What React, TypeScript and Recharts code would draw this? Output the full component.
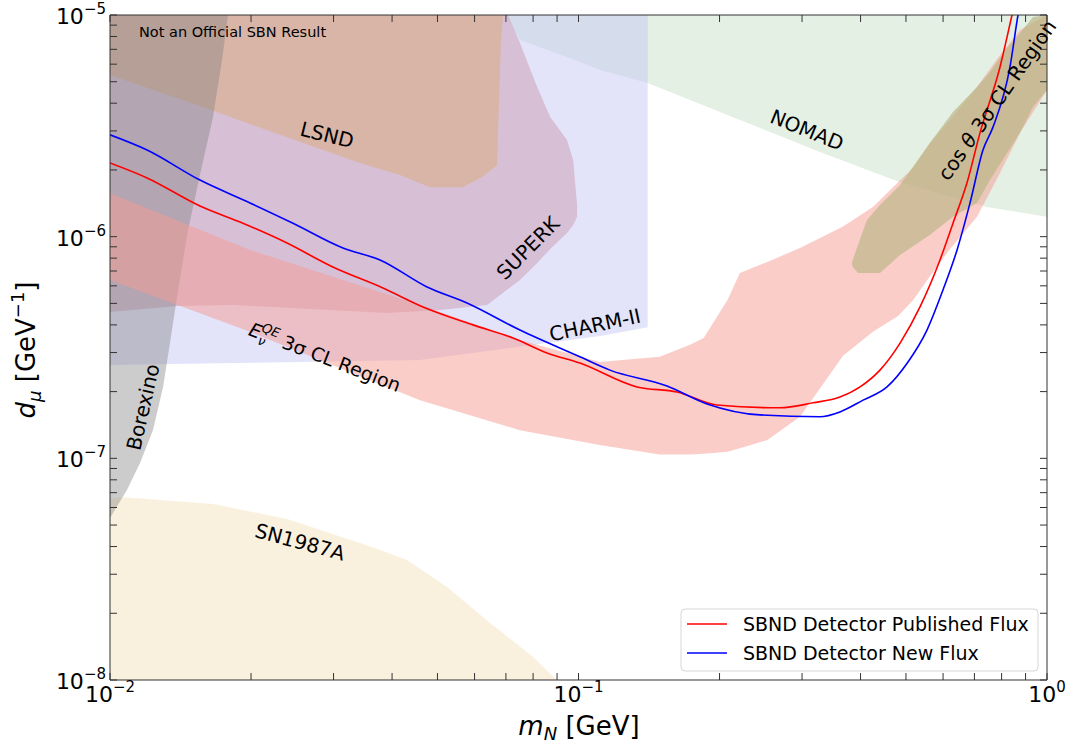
import React from 'react'
import { ComposedChart, Area, Line, XAxis, YAxis } from 'recharts'

// ---- data (m_N in GeV, d_mu in GeV^-1) ----
// bands: [m_N, lower d_mu, upper d_mu]
const SN1987A: [number, number, number][] = [
  [0.01, 1e-8, 6.62e-8], [0.01087, 1e-8, 6.66e-8], [0.01659, 1e-8, 6.22e-8],
  [0.02387, 1e-8, 5.33e-8], [0.03417, 1e-8, 4.15e-8], [0.0377, 1e-8, 3.86e-8],
  [0.04305, 1e-8, 3.48e-8], [0.0524, 1e-8, 2.63e-8], [0.06474, 1e-8, 1.81e-8],
  [0.08, 1e-8, 1.27e-8], [0.0898, 1e-8, 1e-8],
]
const NOMAD: [number, number, number][] = [
  [0.06967, 1e-5, 1e-5], [0.075, 7.71e-6, 1e-5], [0.0945, 6.46e-6, 1e-5],
  [0.1112, 5.65e-6, 1e-5], [0.1405, 4.93e-6, 1e-5], [0.2212, 3.36e-6, 1e-5],
  [0.3277, 2.41e-6, 1e-5], [0.4857, 1.76e-6, 1e-5], [0.7445, 1.36e-6, 1e-5],
  [1.0, 1.23e-6, 1e-5],
]
const CHARM: [number, number, number][] = [
  [0.01, 2.64e-7, 1e-5], [0.0183, 2.69e-7, 1e-5], [0.0459, 2.78e-7, 1e-5],
  [0.0857, 3.31e-7, 1e-5], [0.1112, 3.56e-7, 1e-5], [0.1405, 3.9e-7, 1e-5],
]
const SUPERK: [number, number, number][] = [
  [0.01, 4.57e-7, 1e-5], [0.0139, 4.87e-7, 1e-5], [0.0183, 4.92e-7, 1e-5],
  [0.039, 4.52e-7, 1e-5], [0.0506, 4.67e-7, 1e-5], [0.0638, 4.92e-7, 1e-5],
  [0.0707, 5.8e-7, 1e-5], [0.075, 6.37e-7, 7.47e-6], [0.0816, 7.6e-7, 4.73e-6],
  [0.087, 8.8e-7, 3.47e-6], [0.0945, 1.04e-6, 2.73e-6], [0.0974, 1.13e-6, 2.22e-6],
  [0.0993, 1.23e-6, 1.39e-6],
]
const LSND: [number, number, number][] = [
  [0.01, 5.36e-6, 1e-5], [0.01556, 3.89e-6, 1e-5], [0.02306, 2.88e-6, 1e-5],
  [0.03417, 2.15e-6, 1e-5], [0.04159, 1.9e-6, 1e-5], [0.04819, 1.67e-6, 1e-5],
  [0.05667, 1.67e-6, 1e-5], [0.06223, 1.86e-6, 1e-5], [0.06699, 2.1e-6, 1e-5],
  [0.06766, 4.14e-6, 1e-5], [0.06833, 7.71e-6, 1e-5], [0.069, 1e-5, 1e-5],
]
const BOREXINO: [number, number, number][] = [
  [0.01, 5.38e-8, 1e-5], [0.01015, 5.67e-8, 1e-5], [0.01087, 7.2e-8, 1e-5],
  [0.01159, 9.53e-8, 1e-5], [0.01235, 1.34e-7, 1e-5], [0.01298, 2.1e-7, 1e-5],
  [0.01356, 3.79e-7, 1e-5], [0.0139, 5.34e-7, 1e-5], [0.01467, 1.07e-6, 1e-5],
  [0.01556, 1.9e-6, 1e-5], [0.01659, 3.47e-6, 1e-5], [0.01734, 6.27e-6, 1e-5],
  [0.01786, 1e-5, 1e-5],
]
const ENU_QE: [number, number, number][] = [
  [0.01, 6.37e-7, 1.57e-6], [0.0199, 3.72e-7, 8.71e-7], [0.0459, 1.83e-7, 4.92e-7],
  [0.075, 1.34e-7, 3.42e-7], [0.111, 1.15e-7, 2.72e-7], [0.149, 1.04e-7, 2.87e-7],
  [0.173, 1.04e-7, 3.25e-7], [0.185, 1.05e-7, 3.49e-7], [0.208, 1.07e-7, 5.18e-7],
  [0.221, 1.11e-7, 6.86e-7], [0.253, 1.21e-7, 7.69e-7], [0.297, 1.54e-7, 8.89e-7],
  [0.367, 2.9e-7, 1.11e-6], [0.425, 3.72e-7, 1.36e-6], [0.481, 4.39e-7, 1.76e-6],
  [0.518, 5.18e-7, 2.04e-6], [0.563, 6.65e-7, 2.65e-6], [0.621, 8.8e-7, 3.36e-6],
  [0.709, 1.23e-6, 4.73e-6], [0.794, 1.94e-6, 6.6e-6], [0.876, 2.94e-6, 8.56e-6],
  [1.0, 4.59e-6, 1e-5],
]
const COS_THETA: [number, number, number][] = [
  [0.3836, 7.37e-7, 7.69e-7], [0.395, 6.86e-7, 9.17e-7], [0.4128, 6.86e-7, 1.19e-6],
  [0.44, 6.86e-7, 1.39e-6], [0.4857, 8.26e-7, 1.71e-6], [0.5628, 1.02e-6, 2.65e-6],
  [0.63, 1.23e-6, 3.65e-6], [0.7089, 1.42e-6, 4.73e-6], [0.7555, 1.8e-6, 5.53e-6],
  [0.8214, 2.38e-6, 7.1e-6], [0.8758, 2.94e-6, 8.3e-6], [0.9334, 3.85e-6, 9.79e-6],
  [1.0, 4.59e-6, 1e-5],
]

// sensitivity curves: [m_N, d_mu]
const PUBLISHED_FLUX: [number, number][] = [
  [0.01, 2.15e-6], [0.012, 1.84e-6], [0.01556, 1.375e-6], [0.01922, 1.15e-6],
  [0.02387, 9.36e-7], [0.0299, 7.3e-7], [0.03825, 5.87e-7], [0.04658, 4.82e-7],
  [0.05953, 4.0e-7], [0.07249, 3.49e-7], [0.08567, 2.99e-7], [0.1007, 2.69e-7],
  [0.1333, 2.1e-7], [0.1623, 1.99e-7], [0.1975, 1.74e-7], [0.2692, 1.69e-7],
  [0.3166, 1.78e-7], [0.3615, 1.89e-7], [0.399, 2.1e-7], [0.44, 2.5e-7],
  [0.4857, 3.31e-7], [0.5357, 4.82e-7], [0.591, 7.85e-7], [0.63, 1.15e-6],
  [0.6749, 1.75e-6], [0.7194, 2.94e-6], [0.7938, 5.83e-6], [0.842, 1e-5],
  [0.8758, 1.44e-5],
]
const NEW_FLUX: [number, number][] = [
  [0.01, 2.88e-6], [0.012, 2.46e-6], [0.01556, 1.8e-6], [0.0199, 1.42e-6],
  [0.02458, 1.15e-6], [0.03143, 8.89e-7], [0.0377, 7.85e-7], [0.0475, 5.93e-7],
  [0.05781, 5.02e-7], [0.075, 3.79e-7], [0.1007, 2.87e-7], [0.1167, 2.5e-7],
  [0.1545, 2.12e-7], [0.1881, 1.76e-7], [0.244, 1.57e-7], [0.3277, 1.54e-7],
  [0.3615, 1.62e-7], [0.405, 1.83e-7], [0.4555, 2.1e-7], [0.505, 2.72e-7],
  [0.5544, 3.79e-7], [0.5998, 5.75e-7], [0.6427, 8.71e-7], [0.685, 1.42e-6],
  [0.73, 2.46e-6], [0.7668, 3.12e-6], [0.8337, 5.83e-6], [0.8672, 1e-5],
  [0.8975, 1.44e-5],
]

const X_TICKS = [0.01, 0.02, 0.03, 0.04, 0.05, 0.06, 0.07, 0.08, 0.09, 0.1, 0.2, 0.3, 0.4, 0.5, 0.6, 0.7, 0.8, 0.9, 1]
const Y_TICKS = [
  1e-8, 2e-8, 3e-8, 4e-8, 5e-8, 6e-8, 7e-8, 8e-8, 9e-8,
  1e-7, 2e-7, 3e-7, 4e-7, 5e-7, 6e-7, 7e-7, 8e-7, 9e-7,
  1e-6, 2e-6, 3e-6, 4e-6, 5e-6, 6e-6, 7e-6, 8e-6, 9e-6, 1e-5,
]

const FONT = '"DejaVu Sans", Verdana, sans-serif'
const AXIS = '#333'
const RED = '#ff0000'
const BLUE = '#0000ff'

const bands = [
  { key: 'sn', rows: SN1987A, fill: '#f5e1bd', op: 0.5 },
  { key: 'nomad', rows: NOMAD, fill: '#c8e1c8', op: 0.5 },
  { key: 'charm', rows: CHARM, fill: '#c8c8f5', op: 0.5 },
  { key: 'superk', rows: SUPERK, fill: '#cc9cb2', op: 0.5 },
  { key: 'lsnd', rows: LSND, fill: '#dcac78', op: 0.5 },
  { key: 'borexino', rows: BOREXINO, fill: '#808080', op: 0.4 },
  { key: 'enu', rows: ENU_QE, fill: '#f59b91', op: 0.5 },
  { key: 'cos', rows: COS_THETA, fill: '#bcb789', op: 0.7 },
]

const isMajor = (v: number) => {
  const l = Math.log10(v)
  return Math.abs(l - Math.round(l)) < 1e-6
}
const expText = (v: number) => {
  const e = Math.round(Math.log10(v))
  return e < 0 ? '\u2212' + -e : String(e)
}

function BottomTick({ x, y, payload }: any) {
  const v = payload.value
  return (
    <g>
      <line x1={x} x2={x} y1={y} y2={y - 7} stroke={AXIS} />
      {isMajor(v) && (
        <text x={x} y={y + 22} textAnchor="middle" fontSize={22} fontFamily={FONT} fill="#000">
          10<tspan dy={-10} fontSize={15}>{expText(v)}</tspan>
        </text>
      )}
    </g>
  )
}
function TopTick({ x, y }: any) {
  return <line x1={x} x2={x} y1={y} y2={y + 7} stroke={AXIS} />
}
function LeftTick({ x, y, payload }: any) {
  const v = payload.value
  return (
    <g>
      <line x1={x} x2={x + 7} y1={y} y2={y} stroke={AXIS} />
      {isMajor(v) && (
        <text x={x - 4} y={y + 9} textAnchor="end" fontSize={22} fontFamily={FONT} fill="#000">
          10<tspan dy={-10} fontSize={15}>{expText(v)}</tspan>
        </text>
      )}
    </g>
  )
}
function RightTick({ x, y }: any) {
  return <line x1={x} x2={x - 7} y1={y} y2={y} stroke={AXIS} />
}

const LABELS = [
  { text: 'LSND', x: 327, y: 135, a: 14 },
  { text: 'SUPERK', x: 528, y: 248, a: -45 },
  { text: 'CHARM-II', x: 595, y: 325, a: -12 },
  { text: 'NOMAD', x: 807, y: 130, a: 22 },
  { text: 'Borexino', x: 143, y: 407, a: -77 },
  { text: 'SN1987A', x: 300, y: 542, a: 15 },
]

export default function App() {
  return (
    <div style={{ position: 'absolute', left: 0, top: 0, width: 1075, height: 745, background: '#fff' }}>
      <ComposedChart width={1075} height={745} margin={{ top: 14, right: 27, bottom: 0, left: 0 }}>
        <XAxis
          xAxisId="bottom" orientation="bottom" dataKey="x" type="number" scale="log"
          domain={[0.01, 1]} allowDataOverflow ticks={X_TICKS} interval={0}
          tickSize={0} tickMargin={0} tickLine={false} height={65}
          axisLine={{ stroke: AXIS }} tick={<BottomTick />}
        />
        <XAxis
          xAxisId="top" orientation="top" dataKey="x" type="number" scale="log"
          domain={[0.01, 1]} allowDataOverflow ticks={X_TICKS} interval={0}
          tickSize={0} tickMargin={0} tickLine={false} height={1}
          axisLine={{ stroke: AXIS }} tick={<TopTick />}
        />
        <YAxis
          yAxisId="left" orientation="left" type="number" scale="log"
          domain={[1e-8, 1e-5]} allowDataOverflow ticks={Y_TICKS} interval={0}
          tickSize={0} tickMargin={0} tickLine={false} width={110}
          axisLine={{ stroke: AXIS }} tick={<LeftTick />}
        />
        <YAxis
          yAxisId="right" orientation="right" type="number" scale="log"
          domain={[1e-8, 1e-5]} allowDataOverflow ticks={Y_TICKS} interval={0}
          tickSize={0} tickMargin={0} tickLine={false} width={1}
          axisLine={{ stroke: AXIS }} tick={<RightTick />}
        />

        {bands.map(b => (
          <Area
            key={b.key}
            xAxisId="bottom" yAxisId="left"
            data={b.rows.map(([x, lo, hi]) => ({ x, band: [lo, hi] }))}
            dataKey="band" type="linear" stroke="none"
            fill={b.fill} fillOpacity={b.op}
            dot={false} activeDot={false} isAnimationActive={false}
          />
        ))}

        <Line
          xAxisId="bottom" yAxisId="left"
          data={PUBLISHED_FLUX.map(([x, y]) => ({ x, y }))}
          dataKey="y" type="monotone" stroke={RED} strokeWidth={1.6}
          dot={false} activeDot={false} isAnimationActive={false}
        />
        <Line
          xAxisId="bottom" yAxisId="left"
          data={NEW_FLUX.map(([x, y]) => ({ x, y }))}
          dataKey="y" type="monotone" stroke={BLUE} strokeWidth={1.6}
          dot={false} activeDot={false} isAnimationActive={false}
        />
      </ComposedChart>

      {/* annotations, legend and axis titles */}
      <svg width={1075} height={745} style={{ position: 'absolute', left: 0, top: 0, pointerEvents: 'none' }}
        fontFamily={FONT}>
        <text x={139} y={37} fontSize={14.5} fill="#000">Not an Official SBN Result</text>

        {LABELS.map(l => (
          <text key={l.text} x={l.x} y={l.y} fontSize={20} textAnchor="middle" dominantBaseline="central"
            transform={`rotate(${l.a}, ${l.x}, ${l.y})`} fill="#000">{l.text}</text>
        ))}

        <text x={325} y={364} fontSize={19} textAnchor="middle" transform="rotate(21, 325, 357)" fill="#000">
          <tspan fontStyle="italic">E</tspan>
          <tspan fontSize={13} dy={5} fontStyle="italic">ν</tspan>
          <tspan fontSize={13} dx={-8} dy={-13} fontStyle="italic">QE</tspan>
          <tspan dy={8}> 3σ CL Region</tspan>
        </text>

        <text x={997} y={107} fontSize={20} textAnchor="middle" transform="rotate(-55, 997, 100)" fill="#000">
          cos <tspan fontStyle="italic">θ</tspan> 3σ CL Region
        </text>

        <g>
          <rect x={681} y={609} width={357} height={62} rx={4} fill="#fff" fillOpacity={0.8} stroke="#d6d6d6" />
          <line x1={687} x2={727} y1={624} y2={624} stroke={RED} strokeWidth={1.6} />
          <text x={743} y={631} fontSize={19} fill="#000">SBND Detector Published Flux</text>
          <line x1={687} x2={727} y1={653} y2={653} stroke={BLUE} strokeWidth={1.6} />
          <text x={743} y={660} fontSize={19} fill="#000">SBND Detector New Flux</text>
        </g>

        <text x={579} y={735} fontSize={26} textAnchor="middle" fill="#000">
          <tspan fontStyle="italic">m</tspan>
          <tspan fontSize={18} dy={5} fontStyle="italic">N</tspan>
          <tspan dy={-5}> [GeV]</tspan>
        </text>
        <text x={35} y={350} fontSize={26} textAnchor="middle" transform="rotate(-90, 35, 350)" fill="#000">
          <tspan fontStyle="italic">d</tspan>
          <tspan fontSize={18} dy={6} fontStyle="italic">μ</tspan>
          <tspan dy={-6}> [GeV</tspan>
          <tspan fontSize={18} dy={-11}>−1</tspan>
          <tspan dy={11}>]</tspan>
        </text>
      </svg>
    </div>
  )
}
